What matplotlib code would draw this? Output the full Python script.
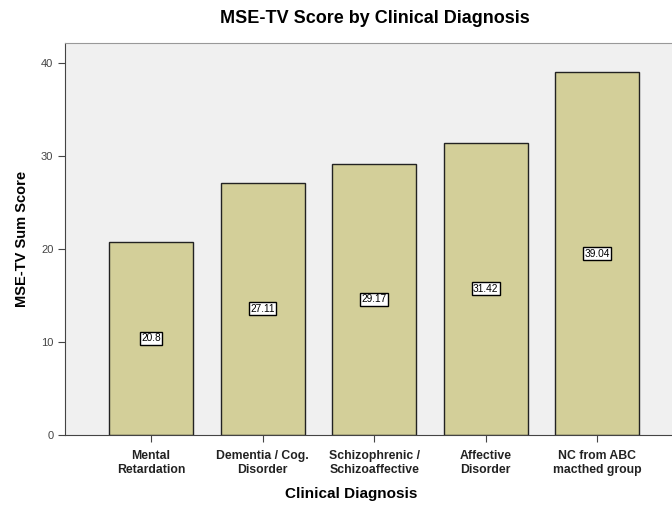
import matplotlib
matplotlib.use("Agg")
import matplotlib.pyplot as plt

# ── Data ──────────────────────────────────────────────────────────────────────
categories = [
    "Mental\nRetardation",
    "Dementia / Cog.\nDisorder",
    "Schizophrenic /\nSchizoaffective",
    "Affective\nDisorder",
    "NC from ABC\nmacthed group",
]
scores = [20.8, 27.11, 29.17, 31.42, 39.04]
y_ticks = [0, 10, 20, 30, 40]

BAR_COLOR = "#D3CF99"
PANEL_BG = "#F0F0F0"

plt.rcParams["font.family"] = ["Liberation Sans", "DejaVu Sans"]

fig = plt.figure(figsize=(6.72, 5.05), dpi=100)
ax = fig.add_axes([0.097, 0.139, 0.903, 0.776])
ax.set_facecolor(PANEL_BG)

x = list(range(len(categories)))
ax.bar(x, scores, width=0.755, color=BAR_COLOR, edgecolor="#222222",
       linewidth=1.0, zorder=2)

for xi, v in zip(x, scores):
    ax.text(xi, v / 2, f"{v:g}", ha="center", va="center", fontsize=7.3,
            color="black", zorder=3,
            bbox=dict(boxstyle="square,pad=0.15", facecolor="white",
                      edgecolor="black", linewidth=1.0))

ax.set_xlim(-0.77, 4.67)
ax.set_ylim(0, 42.2)
ax.set_yticks(y_ticks)
ax.set_xticks(x)
ax.set_xticklabels(categories, fontsize=8.8, fontweight="bold", color="#222222",
                   linespacing=1.25)
ax.tick_params(axis="y", labelsize=8, colors="#444444", length=5, width=0.8)
ax.tick_params(axis="x", length=5, width=0.8, color="#444444", pad=6)

ax.spines["right"].set_visible(False)
ax.spines["top"].set_color("#999999")
ax.spines["left"].set_color("#444444")
ax.spines["bottom"].set_color("#444444")

ax.set_xlabel("Clinical Diagnosis", fontsize=11, fontweight="bold")
ax.xaxis.set_label_coords(0.471, -0.132)
ax.set_ylabel("MSE-TV Sum Score", fontsize=10.5, fontweight="bold", labelpad=9)
fig.text(0.558, 0.963, "MSE-TV Score by Clinical Diagnosis", ha="center",
         va="center", fontsize=13, fontweight="bold")

fig.savefig("out.png", dpi=100)
